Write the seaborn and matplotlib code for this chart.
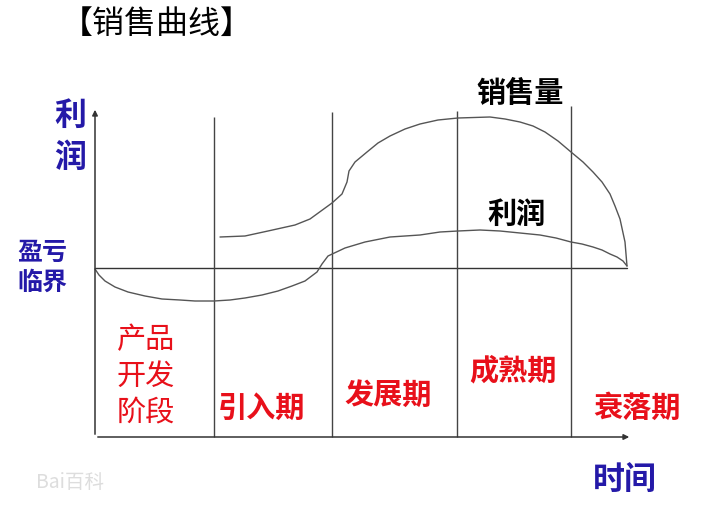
import matplotlib
matplotlib.use('Agg')
import seaborn as sns
import matplotlib.pyplot as plt

# time / value coordinates (origin at the axis corner)
sales_t = [125, 150, 173, 200, 215, 237, 247, 252, 254, 260, 272, 283, 295, 310, 325, 343, 363, 395,
           410, 425, 438, 450, 463, 476, 488, 498, 507, 515, 520, 525, 530, 532]
sales_v = [200, 201, 206, 212, 218, 234, 243, 255, 266, 275, 285, 294, 301, 308, 313, 317, 319, 320,
           318, 315, 311, 305, 296, 285, 275, 265, 255, 243, 231, 218, 195, 171]

profit_t = [0, 4, 10, 20, 33, 50, 67, 85, 100, 119, 135, 150, 167, 183, 197, 210, 222, 227, 233, 250,
            270, 295, 325, 345, 363, 385, 405, 425, 445, 461, 476, 487, 498, 507, 515, 522, 528, 532]
profit_v = [168, 162, 156, 150, 145, 141, 138, 137, 136, 136, 137, 139, 142, 146, 151, 156, 165, 173, 181, 189,
            195, 200, 202, 205, 206, 207, 206, 204, 202, 199, 195, 193, 190, 187, 183, 180, 176, 171]

breakeven = 169
breakeven_end = 532
stage_bounds = [119, 237, 362, 476]
stage_tops = [320, 325, 326, 331]
stage_names = ['引入期', '发展期', '成熟期', '衰落期']
dev_stage = ['产品', '开发', '阶段']
x_end = 537
y_end = 330

blue = '#2419a8'
red = '#e8101a'

sns.set_theme(style='white')
plt.rcParams['font.family'] = ['Noto Sans CJK SC', 'DejaVu Sans']

fig = plt.figure(figsize=(7.01, 5.10), dpi=100)
ax = fig.add_axes([0, 0, 1, 1])
ax.set_xlim(-95, 606)
ax.set_ylim(-72, 438)
ax.axis('off')

# axes with arrows
ax.annotate('', xy=(0, y_end), xytext=(0, 0),
            arrowprops=dict(arrowstyle='-|>', color='#333333', lw=1.1, mutation_scale=8))
ax.annotate('', xy=(x_end, 0), xytext=(0, 0),
            arrowprops=dict(arrowstyle='-|>', color='#333333', lw=1.1, mutation_scale=8))

# breakeven line and stage dividers
ax.plot([0, breakeven_end], [breakeven, breakeven], color='#333333', lw=1.0)
ax.vlines(stage_bounds, 0, stage_tops, color='#444444', lw=1.0)

# curves
sns.lineplot(x=sales_t, y=sales_v, sort=False, estimator=None, color='#555555', lw=1.0, ax=ax)
sns.lineplot(x=profit_t, y=profit_v, sort=False, estimator=None, color='#555555', lw=1.0, ax=ax)

# texts
ax.text(62, 414, '【销售曲线】', fontsize=23, ha='center', va='center', color='black')
ax.text(-25, 322, '利', fontsize=23, fontweight='bold', color=blue, ha='center', va='center')
ax.text(-25, 280, '润', fontsize=23, fontweight='bold', color=blue, ha='center', va='center')
ax.text(-53, 185, '盈亏', fontsize=18, fontweight='bold', color=blue, ha='center', va='center')
ax.text(-53, 155, '临界', fontsize=18, fontweight='bold', color=blue, ha='center', va='center')
ax.text(530, -42, '时间', fontsize=23, fontweight='bold', color=blue, ha='center', va='center')

ax.text(425, 345, '销售量', fontsize=21, fontweight='bold', color='black', ha='center', va='center')
ax.text(422, 224, '利润', fontsize=21, fontweight='bold', color='black', ha='center', va='center')

for label, y in zip(dev_stage, [98, 61, 26]):
    ax.text(51, y, label, fontsize=21, color=red, ha='center', va='center')

stage_pos = [(167, 30), (293, 43), (418, 68), (542, 30)]
for name, (x, y) in zip(stage_names, stage_pos):
    ax.text(x, y, name, fontsize=21, fontweight='bold', color=red, ha='center', va='center')

# faint watermark
ax.text(-25, -45, 'Bai百科', fontsize=14, color='#dddddd', ha='center', va='center')

fig.savefig('out.png', dpi=100)
